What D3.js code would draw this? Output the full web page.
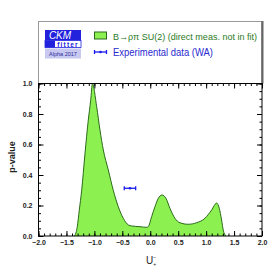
<!DOCTYPE html>
<html>
<head>
<meta charset="utf-8">
<script src="https://cdn.jsdelivr.net/npm/d3@7"></script>
<style>
  body { margin: 0; background: #fff; }
  svg { display: block; }
  .axis text { font-family: "Liberation Sans Narrow", "Liberation Sans", Arial, sans-serif; font-weight: bold; font-size: 7px; fill: #222; }
  .axis path { display: none; }
  .axis line { stroke: #000; stroke-width: 1; }
</style>
</head>
<body>
<div id="chart"></div>
<script>

// B -> rho pi SU(2) scan, p-value vs U
var uValues = [-1.36, -1.33, -1.306, -1.27, -1.227, -1.168, -1.109, -1.066, -1.035, -0.959, -0.90, -0.84, -0.751, -0.662, -0.572, -0.483, -0.39, -0.333, -0.184, -0.06, -0.036, 0.025, 0.084, 0.144, 0.209, 0.281, 0.352, 0.442, 0.531, 0.68, 0.83, 0.979, 1.098, 1.188, 1.235, 1.277, 1.306, 1.354]
var pValues = [0, 0.02, 0.061, 0.17, 0.30, 0.54, 0.76, 0.89, 1.0, 0.848, 0.695, 0.564, 0.433, 0.30, 0.192, 0.116, 0.072, 0.066, 0.061, 0.057, 0.061, 0.127, 0.192, 0.247, 0.269, 0.247, 0.182, 0.116, 0.087, 0.077, 0.087, 0.116, 0.170, 0.216, 0.182, 0.105, 0.039, 0]

// experimental data (WA)
var expCentral = [-0.363]
var expLow = [-0.465]
var expHigh = [-0.261]
var expP = [0.313]

var xTicks = [-2.0, -1.5, -1.0, -0.5, 0.0, 0.5, 1.0, 1.5, 2.0]
var yTicks = [0.0, 0.2, 0.4, 0.6, 0.8, 1.0]

var legendLabels = ["B\u2192\u03c1\u03c0 SU(2) (direct meas. not in fit)", "Experimental data (WA)"]

var width = 276, height = 276

var margin = { top: 83.5, right: 14, bottom: 40, left: 38.5 }

var svg = d3.select("#chart")
	.append("svg")
	.attr("width", width)
	.attr("height", height)

var x = d3.scaleLinear().domain([-2, 2]).range([margin.left, width - margin.right])
var y = d3.scaleLinear().domain([0, 1]).range([height - margin.bottom, margin.top])

// legend box
svg.append("rect")
	.attr("x", 38.5)
	.attr("y", 21.5)
	.attr("width", 223)
	.attr("height", 62)
	.attr("fill", "#fff")
	.attr("stroke", "#999")
	.attr("stroke-width", 1)

svg.append("line")
	.attr("x1", 262.5).attr("y1", 21)
	.attr("x2", 262.5).attr("y2", 83.5)
	.attr("stroke", "#666")
	.attr("stroke-width", 2)

// CKMfitter logo
var logo = svg.append("g")

logo.append("rect").attr("x", 45).attr("y", 30).attr("width", 36).attr("height", 10.5).attr("fill", "#2222dd")

logo.append("text")
	.attr("x", 60).attr("y", 39)
	.attr("text-anchor", "middle")
	.attr("font-family", "Liberation Sans, Arial, sans-serif")
	.attr("font-style", "italic")
	.attr("font-size", 10)
	.attr("fill", "#fff")
	.text("CKM")

logo.append("rect").attr("x", 45).attr("y", 40.5).attr("width", 36).attr("height", 7).attr("fill", "#fff").attr("stroke", "#2222dd").attr("stroke-width", 0.8)

logo.append("rect").attr("x", 45).attr("y", 40.5).attr("width", 10).attr("height", 7).attr("fill", "#2222dd")

logo.append("text")
	.attr("x", 68).attr("y", 46.5)
	.attr("text-anchor", "middle")
	.attr("font-family", "Liberation Sans, Arial, sans-serif")
	.attr("font-weight", "bold")
	.attr("font-size", 6.5)
	.attr("letter-spacing", 1.2)
	.attr("fill", "#2222dd")
	.text("fitter")

logo.append("rect").attr("x", 45).attr("y", 48.5).attr("width", 36).attr("height", 10).attr("fill", "#c8c8f0")

logo.append("text")
	.attr("x", 63).attr("y", 55.5)
	.attr("text-anchor", "middle")
	.attr("font-family", "Liberation Sans Narrow, Arial, sans-serif")
	.attr("font-size", 5.5)
	.attr("fill", "#2a2a99")
	.text("Alpha 2017")

// legend entries
svg.append("rect")
	.attr("x", 94.5).attr("y", 32)
	.attr("width", 12).attr("height", 7)
	.attr("fill", "#8cf050")
	.attr("stroke", "#2a6a1a")
	.attr("stroke-width", 1)

svg.append("text")
	.attr("x", 113).attr("y", 39.5)
	.attr("font-family", "Liberation Sans Narrow, Liberation Sans, Arial, sans-serif")
	.attr("font-size", 9.3)
	.attr("fill", "#2a7a1e")
	.attr("textLength", 144)
	.attr("lengthAdjust", "spacingAndGlyphs")
	.text(legendLabels[0])

var legErr = svg.append("g").attr("stroke", "#1a1aee").attr("stroke-width", 1.3)
legErr.append("line").attr("x1", 94.5).attr("x2", 106.5).attr("y1", 52).attr("y2", 52)
legErr.append("line").attr("x1", 94.5).attr("x2", 94.5).attr("y1", 50).attr("y2", 54)
legErr.append("line").attr("x1", 106.5).attr("x2", 106.5).attr("y1", 50).attr("y2", 54)
svg.append("circle").attr("cx", 100.5).attr("cy", 52).attr("r", 1.3).attr("fill", "#1a1aee")

svg.append("text")
	.attr("x", 113).attr("y", 56)
	.attr("font-family", "Liberation Sans Narrow, Liberation Sans, Arial, sans-serif")
	.attr("font-size", 10.5)
	.attr("fill", "#2a2ad0")
	.attr("textLength", 100)
	.attr("lengthAdjust", "spacingAndGlyphs")
	.text(legendLabels[1])

// curve
var curveData = uValues.map(function(d, i) { return { u: d, p: pValues[i] } })

var area = d3.area()
	.x(function(d) { return x(d.u) })
	.y0(y(0))
	.y1(function(d) { return y(d.p) })
	.curve(d3.curveMonotoneX)

var line = d3.line()
	.x(function(d) { return x(d.u) })
	.y(function(d) { return y(d.p) })
	.curve(d3.curveMonotoneX)

svg.append("path")
	.datum(curveData)
	.attr("d", area)
	.attr("fill", "#8cf050")

svg.append("path")
	.datum(curveData)
	.attr("d", line)
	.attr("fill", "none")
	.attr("stroke", "#2a6a1a")
	.attr("stroke-width", 1)

// experimental point
var exp = svg.append("g").attr("stroke", "#1a1aee").attr("stroke-width", 1.3)

exp.selectAll(".bar")
	.data(expCentral)
	.enter()
	.append("line")
	.attr("x1", function(d, i) { return x(expLow[i]) })
	.attr("x2", function(d, i) { return x(expHigh[i]) })
	.attr("y1", function(d, i) { return y(expP[i]) })
	.attr("y2", function(d, i) { return y(expP[i]) })

exp.selectAll(".capl")
	.data(expCentral)
	.enter()
	.append("line")
	.attr("x1", function(d, i) { return x(expLow[i]) })
	.attr("x2", function(d, i) { return x(expLow[i]) })
	.attr("y1", function(d, i) { return y(expP[i]) - 2 })
	.attr("y2", function(d, i) { return y(expP[i]) + 2 })

exp.selectAll(".caph")
	.data(expCentral)
	.enter()
	.append("line")
	.attr("x1", function(d, i) { return x(expHigh[i]) })
	.attr("x2", function(d, i) { return x(expHigh[i]) })
	.attr("y1", function(d, i) { return y(expP[i]) - 2 })
	.attr("y2", function(d, i) { return y(expP[i]) + 2 })

svg.selectAll(".dot")
	.data(expCentral)
	.enter()
	.append("circle")
	.attr("cx", function(d) { return x(d) })
	.attr("cy", function(d, i) { return y(expP[i]) })
	.attr("r", 1.3)
	.attr("fill", "#1a1aee")

// axes
var xMinor = d3.range(-20, 21).map(function(d) { return d / 10 })
var yMinor = d3.range(0, 21).map(function(d) { return d / 20 })
var fmt = d3.format(".1f")

svg.append("g").attr("class", "axis")
	.attr("transform", "translate(0," + y(0) + ")")
	.call(d3.axisBottom(x).tickValues(xTicks).tickSize(-5).tickPadding(4).tickFormat(fmt))

svg.append("g").attr("class", "axis")
	.attr("transform", "translate(0," + y(0) + ")")
	.call(d3.axisBottom(x).tickValues(xMinor).tickSize(-2.5).tickFormat(""))

svg.append("g").attr("class", "axis")
	.attr("transform", "translate(0," + y(1) + ")")
	.call(d3.axisTop(x).tickValues(xTicks).tickSize(-5).tickFormat(""))

svg.append("g").attr("class", "axis")
	.attr("transform", "translate(0," + y(1) + ")")
	.call(d3.axisTop(x).tickValues(xMinor).tickSize(-2.5).tickFormat(""))

svg.append("g").attr("class", "axis")
	.attr("transform", "translate(" + x(-2) + ",0)")
	.call(d3.axisLeft(y).tickValues(yTicks).tickSize(-5).tickPadding(6).tickFormat(fmt))

svg.append("g").attr("class", "axis")
	.attr("transform", "translate(" + x(-2) + ",0)")
	.call(d3.axisLeft(y).tickValues(yMinor).tickSize(-2.5).tickFormat(""))

svg.append("g").attr("class", "axis")
	.attr("transform", "translate(" + x(2) + ",0)")
	.call(d3.axisRight(y).tickValues(yTicks).tickSize(-5).tickFormat(""))

svg.append("g").attr("class", "axis")
	.attr("transform", "translate(" + x(2) + ",0)")
	.call(d3.axisRight(y).tickValues(yMinor).tickSize(-2.5).tickFormat(""))

// frame
svg.append("rect")
	.attr("x", x(-2))
	.attr("y", y(1))
	.attr("width", x(2) - x(-2))
	.attr("height", y(0) - y(1))
	.attr("fill", "none")
	.attr("stroke", "#000")
	.attr("stroke-width", 1)

// axis titles
var xt = svg.append("text")
	.attr("x", 146)
	.attr("y", 264)
	.attr("font-family", "Liberation Sans Narrow, Liberation Sans, Arial, sans-serif")
	.attr("font-size", 10)
	.attr("fill", "#222")

xt.append("tspan").text("U")
xt.append("tspan").attr("font-size", 5).attr("dy", -5).text("\u2212")
xt.append("tspan").attr("font-size", 5).attr("dx", -3).attr("dy", 7).text("+")

svg.append("text")
	.attr("transform", "translate(15,157) rotate(-90)")
	.attr("text-anchor", "middle")
	.attr("font-family", "Liberation Sans, Arial, sans-serif")
	.attr("font-weight", "bold")
	.attr("font-size", 9)
	.attr("fill", "#222")
	.text("p-value")

</script>
</body>
</html>
